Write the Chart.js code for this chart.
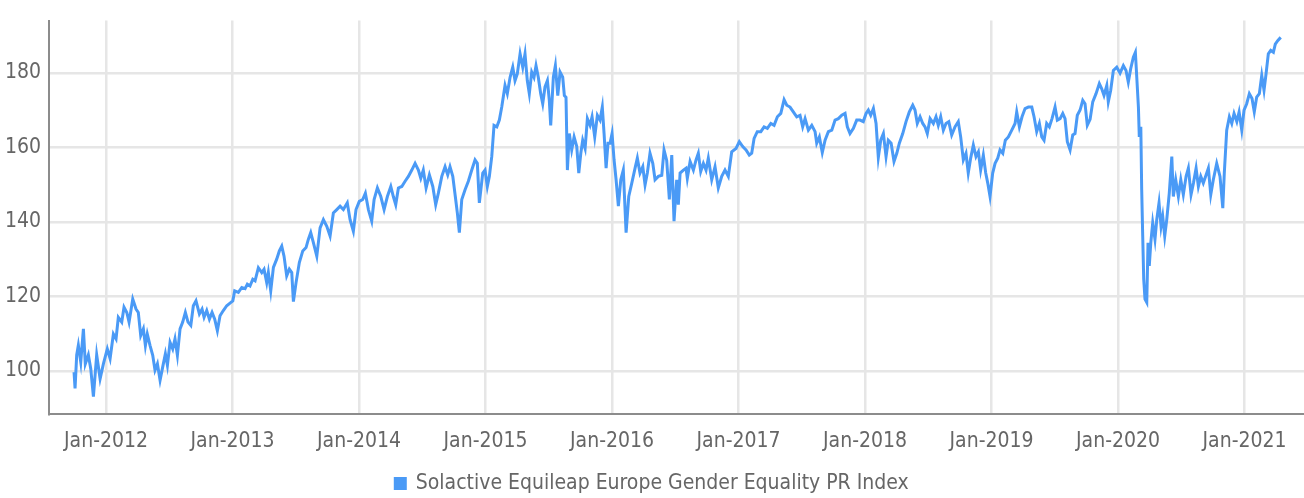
<!DOCTYPE html>
<html>
<head>
<meta charset="utf-8">
<script src="https://cdn.jsdelivr.net/npm/chart.js@4/dist/chart.umd.min.js"></script>
<style>
  body { margin: 0; background: #fff; }
</style>
</head>
<body>
<canvas id="indexChart" width="1304" height="498"></canvas>
<script>
/* ------------------------------------------------------------
   DATA (dates as decimal years)
------------------------------------------------------------ */
const seriesName = "Solactive Equileap Europe Gender Equality PR Index";

const dates = [
    2011.747, 2011.755, 2011.768, 2011.781, 2011.800, 2011.821, 2011.836, 2011.860, 2011.879, 2011.900,
    2011.926, 2011.953, 2011.979, 2012.010, 2012.032, 2012.058, 2012.079, 2012.097, 2012.124, 2012.142,
    2012.164, 2012.182, 2012.211, 2012.237, 2012.255, 2012.274, 2012.295, 2012.311, 2012.326, 2012.348,
    2012.369, 2012.387, 2012.406, 2012.427, 2012.448, 2012.469, 2012.485, 2012.506, 2012.527, 2012.545,
    2012.564, 2012.585, 2012.606, 2012.627, 2012.648, 2012.670, 2012.690, 2012.711, 2012.738, 2012.759,
    2012.775, 2012.796, 2012.817, 2012.838, 2012.859, 2012.880, 2012.901, 2012.927, 2012.954, 2012.980,
    2013.002, 2013.017, 2013.046, 2013.073, 2013.099, 2013.117, 2013.138, 2013.160, 2013.178, 2013.204,
    2013.231, 2013.249, 2013.270, 2013.283, 2013.302, 2013.323, 2013.349, 2013.370, 2013.389, 2013.407,
    2013.428, 2013.449, 2013.468, 2013.481, 2013.502, 2013.528, 2013.555, 2013.581, 2013.599, 2013.618,
    2013.639, 2013.666, 2013.692, 2013.718, 2013.745, 2013.771, 2013.797, 2013.824, 2013.850, 2013.876,
    2013.907, 2013.929, 2013.955, 2013.976, 2014.002, 2014.029, 2014.050, 2014.074, 2014.100, 2014.119,
    2014.145, 2014.172, 2014.198, 2014.224, 2014.251, 2014.271, 2014.290, 2014.311, 2014.338, 2014.364,
    2014.390, 2014.417, 2014.443, 2014.469, 2014.488, 2014.508, 2014.530, 2014.556, 2014.583, 2014.606,
    2014.627, 2014.654, 2014.680, 2014.701, 2014.719, 2014.741, 2014.761, 2014.777, 2014.793, 2014.812,
    2014.838, 2014.864, 2014.891, 2014.917, 2014.935, 2014.951, 2014.978, 2014.996, 2015.014, 2015.030,
    2015.049, 2015.067, 2015.089, 2015.109, 2015.128, 2015.154, 2015.172, 2015.194, 2015.215, 2015.233,
    2015.251, 2015.273, 2015.294, 2015.312, 2015.330, 2015.346, 2015.365, 2015.383, 2015.399, 2015.417,
    2015.436, 2015.452, 2015.470, 2015.489, 2015.504, 2015.515, 2015.536, 2015.552, 2015.571, 2015.589,
    2015.610, 2015.623, 2015.636, 2015.647, 2015.662, 2015.681, 2015.700, 2015.721, 2015.737, 2015.753,
    2015.768, 2015.787, 2015.805, 2015.826, 2015.842, 2015.863, 2015.884, 2015.905, 2015.923, 2015.937,
    2015.953, 2015.968, 2015.984, 2016.000, 2016.016, 2016.032, 2016.050, 2016.069, 2016.089, 2016.111,
    2016.132, 2016.156, 2016.182, 2016.200, 2016.221, 2016.243, 2016.261, 2016.279, 2016.300, 2016.322,
    2016.340, 2016.366, 2016.393, 2016.411, 2016.432, 2016.453, 2016.472, 2016.490, 2016.511, 2016.524,
    2016.538, 2016.564, 2016.585, 2016.595, 2016.617, 2016.643, 2016.664, 2016.682, 2016.701, 2016.722,
    2016.743, 2016.761, 2016.788, 2016.814, 2016.840, 2016.867, 2016.893, 2016.919, 2016.946, 2016.980,
    2017.006, 2017.033, 2017.059, 2017.085, 2017.104, 2017.123, 2017.148, 2017.176, 2017.202, 2017.228,
    2017.255, 2017.281, 2017.307, 2017.334, 2017.360, 2017.381, 2017.407, 2017.433, 2017.460, 2017.486,
    2017.507, 2017.526, 2017.552, 2017.579, 2017.605, 2017.618, 2017.639, 2017.662, 2017.684, 2017.710,
    2017.737, 2017.763, 2017.789, 2017.816, 2017.842, 2017.860, 2017.881, 2017.908, 2017.934, 2017.960,
    2017.986, 2018.008, 2018.026, 2018.045, 2018.066, 2018.087, 2018.105, 2018.124, 2018.145, 2018.166,
    2018.184, 2018.206, 2018.229, 2018.251, 2018.271, 2018.298, 2018.324, 2018.350, 2018.377, 2018.395,
    2018.413, 2018.435, 2018.456, 2018.474, 2018.492, 2018.514, 2018.540, 2018.561, 2018.579, 2018.598,
    2018.619, 2018.640, 2018.662, 2018.685, 2018.711, 2018.737, 2018.756, 2018.777, 2018.798, 2018.816,
    2018.835, 2018.856, 2018.877, 2018.896, 2018.914, 2018.935, 2018.954, 2018.970, 2018.988, 2019.009,
    2019.028, 2019.049, 2019.067, 2019.089, 2019.109, 2019.133, 2019.160, 2019.186, 2019.199, 2019.220,
    2019.241, 2019.265, 2019.291, 2019.318, 2019.336, 2019.357, 2019.378, 2019.397, 2019.415, 2019.436,
    2019.457, 2019.478, 2019.502, 2019.520, 2019.542, 2019.563, 2019.581, 2019.599, 2019.621, 2019.642,
    2019.660, 2019.678, 2019.700, 2019.721, 2019.739, 2019.757, 2019.779, 2019.800, 2019.826, 2019.852,
    2019.871, 2019.889, 2019.911, 2019.923, 2019.942, 2019.963, 2019.990, 2020.016, 2020.042, 2020.063,
    2020.081, 2020.100, 2020.121, 2020.137, 2020.148, 2020.161, 2020.168, 2020.180, 2020.187, 2020.195,
    2020.203, 2020.213, 2020.227, 2020.237, 2020.247, 2020.259, 2020.274, 2020.292, 2020.306, 2020.324,
    2020.340, 2020.353, 2020.369, 2020.385, 2020.405, 2020.425, 2020.437, 2020.456, 2020.477, 2020.496,
    2020.516, 2020.538, 2020.556, 2020.577, 2020.596, 2020.617, 2020.635, 2020.654, 2020.674, 2020.696,
    2020.714, 2020.733, 2020.753, 2020.780, 2020.806, 2020.828, 2020.840, 2020.859, 2020.880, 2020.899,
    2020.917, 2020.939, 2020.957, 2020.978, 2020.996, 2021.017, 2021.038, 2021.059, 2021.077, 2021.096,
    2021.117, 2021.136, 2021.154, 2021.170, 2021.188, 2021.207, 2021.228, 2021.243, 2021.262, 2021.286
];

const values = [
    99.7, 95.3, 104.3, 106.9, 102.4, 111.3, 101.9, 104.3, 100.6, 93.1,
    104.3, 97.9, 101.9, 105.9, 103.3, 109.9, 108.6, 114.4, 113.1, 117.1,
    115.7, 113.1, 119.3, 116.6, 115.7, 109.5, 111.3, 106.8, 109.9, 106.8,
    104.2, 100.2, 101.9, 97.5, 101.1, 104.6, 101.5, 107.7, 105.9, 108.6,
    104.2, 111.3, 113.1, 115.7, 113.1, 112.2, 117.5, 118.8, 115.3, 116.6,
    114.4, 116.2, 113.9, 115.7, 113.9, 110.8, 114.8, 116.2, 117.5, 118.2,
    118.8, 121.5, 121.1, 122.4, 122.1, 123.3, 122.8, 124.6, 124.2, 127.7,
    126.4, 127.3, 123.7, 126.4, 121.5, 127.8, 130.0, 132.2, 133.5, 130.8,
    125.5, 127.3, 126.4, 118.6, 123.7, 129.1, 132.2, 133.1, 135.3, 137.1,
    134.4, 130.8, 138.4, 140.6, 138.8, 136.2, 142.4, 143.3, 144.2, 143.3,
    145.1, 140.6, 137.5, 143.3, 145.5, 146.0, 147.7, 143.3, 140.2, 146.0,
    149.1, 146.8, 143.3, 146.8, 149.5, 146.8, 144.6, 149.1, 149.5, 150.9,
    152.2, 153.9, 155.7, 153.9, 151.7, 153.9, 149.1, 152.6, 149.5, 144.6,
    147.7, 152.2, 154.8, 152.6, 154.8, 152.2, 146.8, 142.4, 137.1, 146.0,
    148.6, 150.9, 153.9, 156.6, 155.7, 145.1, 153.1, 153.9, 149.5, 152.2,
    157.5, 165.9, 165.5, 167.3, 170.8, 176.6, 174.4, 178.8, 181.5, 177.9,
    179.7, 185.1, 181.5, 185.1, 177.9, 174.4, 180.2, 178.8, 181.9, 178.8,
    174.4, 171.7, 176.2, 177.9, 172.6, 165.9, 178.8, 181.9, 173.9, 180.2,
    178.8, 173.9, 173.4, 153.9, 163.7, 159.3, 162.8, 160.2, 153.1, 158.4,
    161.9, 159.7, 167.7, 165.9, 168.2, 162.8, 168.6, 167.3, 170.8, 163.7,
    154.4, 161.1, 161.1, 163.7, 156.6, 151.3, 144.2, 151.3, 153.9, 137.1,
    146.8, 150.4, 154.4, 157.1, 153.1, 154.8, 149.9, 153.1, 158.4, 155.7,
    151.3, 152.2, 152.5, 159.3, 156.5, 146.0, 157.9, 140.2, 151.3, 144.6,
    153.1, 153.9, 154.4, 151.7, 156.2, 153.9, 156.6, 158.4, 153.5, 155.7,
    153.9, 157.1, 151.3, 154.8, 149.1, 152.2, 153.9, 152.2, 158.8, 159.7,
    161.5, 160.2, 159.3, 157.9, 158.4, 162.4, 164.2, 164.2, 165.5, 165.1,
    166.4, 165.9, 168.2, 169.1, 172.8, 171.3, 170.8, 169.5, 168.2, 168.6,
    165.5, 167.7, 164.6, 165.9, 164.2, 161.1, 162.8, 158.6, 161.9, 164.2,
    164.6, 167.3, 167.7, 168.6, 169.1, 165.5, 163.7, 165.1, 167.3, 167.3,
    166.9, 169.1, 170.0, 168.6, 170.4, 166.4, 157.3, 161.9, 163.7, 157.5,
    161.9, 161.1, 156.2, 158.4, 161.1, 163.7, 166.9, 169.5, 171.3, 170.0,
    166.4, 168.2, 166.4, 165.5, 163.7, 167.7, 166.4, 168.2, 165.9, 168.2,
    164.6, 166.4, 166.9, 163.3, 165.5, 166.9, 162.8, 156.6, 158.4, 153.1,
    157.1, 160.6, 157.5, 158.8, 153.9, 157.9, 153.1, 150.4, 146.8, 153.1,
    155.7, 157.1, 159.3, 158.4, 161.9, 162.8, 164.6, 166.4, 169.5, 165.5,
    168.2, 170.4, 170.8, 170.8, 168.2, 164.2, 166.4, 162.8, 161.9, 166.4,
    165.5, 167.7, 170.8, 167.3, 167.7, 169.1, 167.7, 161.5, 159.3, 163.3,
    163.7, 168.6, 170.0, 172.6, 171.7, 165.9, 167.5, 172.2, 174.4, 177.1,
    175.7, 173.9, 176.6, 172.2, 175.3, 180.6, 181.5, 179.9, 181.9, 180.6,
    177.5, 181.1, 184.2, 185.5, 178.8, 170.8, 162.8, 165.5, 148.6, 136.2,
    124.6, 119.3, 118.4, 134.4, 128.2, 134.4, 139.7, 135.3, 140.6, 145.1,
    138.8, 141.5, 136.2, 140.6, 147.7, 157.5, 146.8, 151.3, 146.8, 151.3,
    147.3, 152.2, 154.4, 147.3, 150.4, 154.4, 149.5, 152.2, 150.4, 152.6,
    154.4, 147.3, 151.3, 155.7, 152.2, 143.7, 153.1, 164.6, 168.2, 166.4,
    169.1, 166.9, 169.5, 164.6, 170.0, 171.7, 174.4, 173.1, 169.5, 173.5,
    174.4, 179.3, 175.3, 179.7, 185.1, 186.0, 185.5, 187.7, 188.6, 189.5
];

const yearTicks = [2012, 2013, 2014, 2015, 2016, 2017, 2018, 2019, 2020, 2021];
const valueTicks = [100, 120, 140, 160, 180];

/* ------------------------------------------------------------
   CHART
------------------------------------------------------------ */
Chart.defaults.font.family = "'DejaVu Sans Condensed', 'Liberation Sans Narrow', sans-serif";
Chart.defaults.font.size = 21;
Chart.defaults.color = "#666666";

const points = dates.map((d, i) => ({ x: d, y: values[i] }));
const gridColor = "#e6e6e6";
const axisColor = "#8c8c8c";

new Chart(document.getElementById("indexChart").getContext("2d"), {
    type: "line",
    data: {
        datasets: [{
            label: seriesName,
            data: points,
            borderColor: "#4a9af6",
            backgroundColor: "#4a9af6",
            borderWidth: 3,
            pointRadius: 0,
            tension: 0
        }]
    },
    options: {
        responsive: false,
        animation: false,
        layout: { padding: { top: 16, right: 0, left: 0, bottom: -6 } },
        plugins: {
            tooltip: { enabled: false },
            legend: {
                position: "bottom",
                labels: {
                    boxWidth: 10,
                    boxHeight: 10,
                    padding: 2,
                    color: "#666666"
                }
            }
        },
        scales: {
            x: {
                type: "linear",
                min: 2011.549,
                max: 2021.47,
                afterBuildTicks: axis => { axis.ticks = yearTicks.map(v => ({ value: v })); },
                afterFit: axis => { axis.height += 2; },
                ticks: {
                    padding: 15,
                    callback: v => "Jan-" + v
                },
                grid: { color: gridColor, lineWidth: 2.5, drawTicks: false },
                border: { display: true, color: axisColor, width: 2 }
            },
            y: {
                min: 88.5,
                max: 194,
                afterBuildTicks: axis => { axis.ticks = valueTicks.map(v => ({ value: v })); },
                afterFit: axis => { axis.width = 49; },
                ticks: { padding: 8 },
                grid: { color: gridColor, lineWidth: 2.5, drawTicks: false },
                border: { display: true, color: axisColor, width: 2 }
            }
        }
    }
});
</script>
</body>
</html>
